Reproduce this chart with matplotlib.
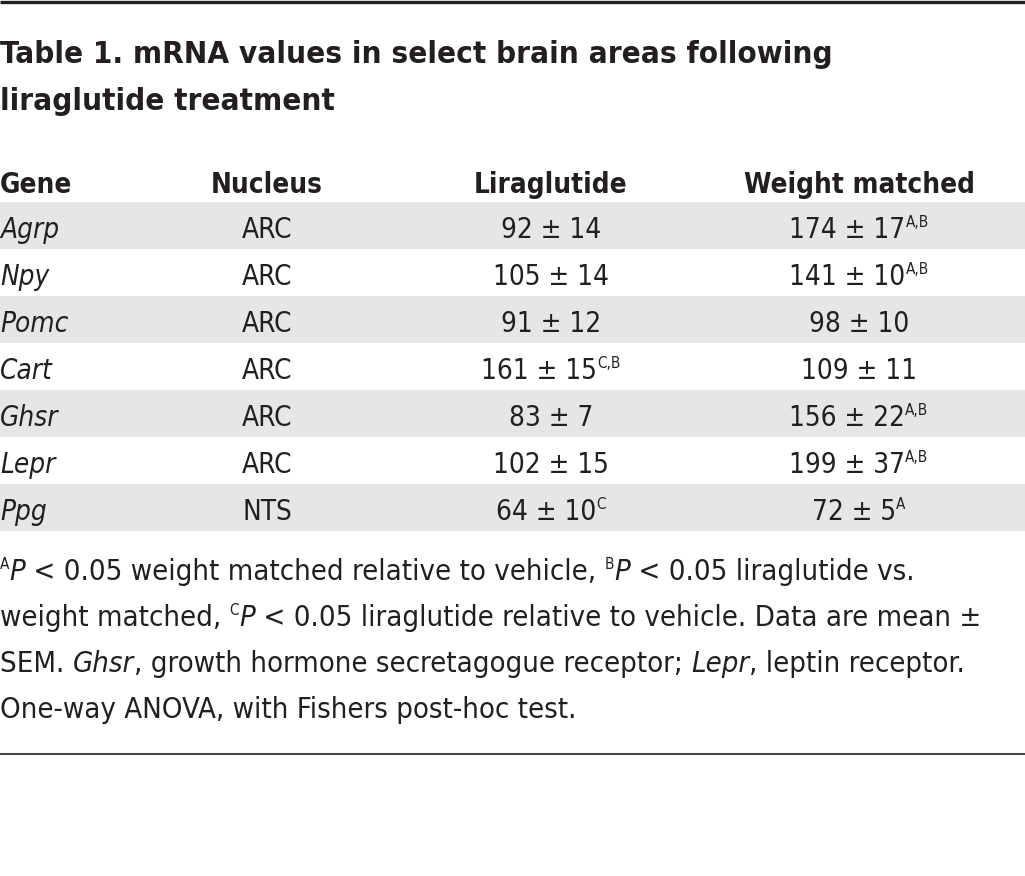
import matplotlib
matplotlib.use("Agg")
import matplotlib.pyplot as plt
from matplotlib import font_manager as fm

# table data
genes = ["Agrp", "Npy", "Pomc", "Cart", "Ghsr", "Lepr", "Ppg"]
nucleus = ["ARC", "ARC", "ARC", "ARC", "ARC", "ARC", "NTS"]
lira_mean = [92, 105, 91, 161, 83, 102, 64]
lira_sem = [14, 14, 12, 15, 7, 15, 10]
lira_sig = ["", "", "", "C,B", "", "", "C"]
wm_mean = [174, 141, 98, 109, 156, 199, 72]
wm_sem = [17, 10, 10, 11, 22, 37, 5]
wm_sig = ["A,B", "A,B", "", "", "A,B", "A,B", "A"]
headers = ["Gene", "Nucleus", "Liraglutide", "Weight matched"]

avail = {f.name for f in fm.fontManager.ttflist}
FONT = "Liberation Sans Narrow" if "Liberation Sans Narrow" in avail else "DejaVu Sans"
plt.rcParams["font.family"] = FONT
plt.rcParams["font.stretch"] = "condensed"

INK = "#231f20"
BAND = "#e6e6e6"

fig = plt.figure(figsize=(10.25, 8.76), dpi=100)
ax = fig.add_axes([0, 0, 1, 1])
ax.set_xlim(0, 1025)
ax.set_ylim(876, 0)
ax.axis("off")
r = fig.canvas.get_renderer()


def runs(x, y, parts, ha="left", size=20):
    # draw a line made of styled pieces, placed one after another
    objs = []
    for txt, kw in parts:
        kw = dict(kw)
        dy = kw.pop("dy", 0)
        kw.setdefault("fontsize", size)
        t = ax.text(0, y - dy, txt, va="baseline", ha="left", color=INK, **kw)
        objs.append((t, t.get_window_extent(r).width))
    total = sum(w for _, w in objs)
    x0 = x - total / 2 if ha == "center" else x
    for t, w in objs:
        t.set_x(x0)
        x0 += w


# rules
ax.plot([0, 1025], [1.5, 1.5], color=INK, lw=2.4, solid_capstyle="butt")
ax.plot([0, 1025], [754, 754], color="#444444", lw=1.5, solid_capstyle="butt")

# title
ax.text(0, 63, "Table 1. mRNA values in select brain areas following",
        fontsize=22.5, fontweight="bold", color=INK, va="baseline")
ax.text(0, 110, "liraglutide treatment",
        fontsize=22.5, fontweight="bold", color=INK, va="baseline")

col_x = [0, 267, 551, 859]
row_top = 202
row_h = 47
body = 20
sup = dict(fontsize=11, dy=11)

for i, h in enumerate(headers):
    ax.text(col_x[i], 193, h, fontsize=body, fontweight="bold", color=INK,
            va="baseline", ha="left" if i == 0 else "center")

for i, g in enumerate(genes):
    top = row_top + i * row_h
    if i % 2 == 0:
        ax.axhspan(top, top + row_h, color=BAND, lw=0, zorder=0)
    base = top + 36
    ax.text(col_x[0], base, g, fontsize=body, style="italic", color=INK, va="baseline")
    ax.text(col_x[1], base, nucleus[i], fontsize=body, color=INK, va="baseline", ha="center")
    runs(col_x[2], base, [(f"{lira_mean[i]} \u00b1 {lira_sem[i]}", {}),
                          (lira_sig[i], sup)], ha="center", size=body)
    runs(col_x[3], base, [(f"{wm_mean[i]} \u00b1 {wm_sem[i]}", {}),
                          (wm_sig[i], sup)], ha="center", size=body)

# footnote
it = dict(style="italic")
fsup = dict(fontsize=11, dy=11)
foot = [
    [("A", fsup), ("P", it), (" < 0.05 weight matched relative to vehicle, ", {}),
     ("B", fsup), ("P", it), (" < 0.05 liraglutide vs.", {})],
    [("weight matched, ", {}), ("C", fsup), ("P", it),
     (" < 0.05 liraglutide relative to vehicle. Data are mean \u00b1", {})],
    [("SEM. ", {}), ("Ghsr", it), (", growth hormone secretagogue receptor; ", {}),
     ("Lepr", it), (", leptin receptor.", {})],
    [("One-way ANOVA, with Fishers post-hoc test.", {})],
]
for k, line in enumerate(foot):
    runs(0, 580 + k * 46, line, size=21)

fig.savefig("out.png", dpi=100)
